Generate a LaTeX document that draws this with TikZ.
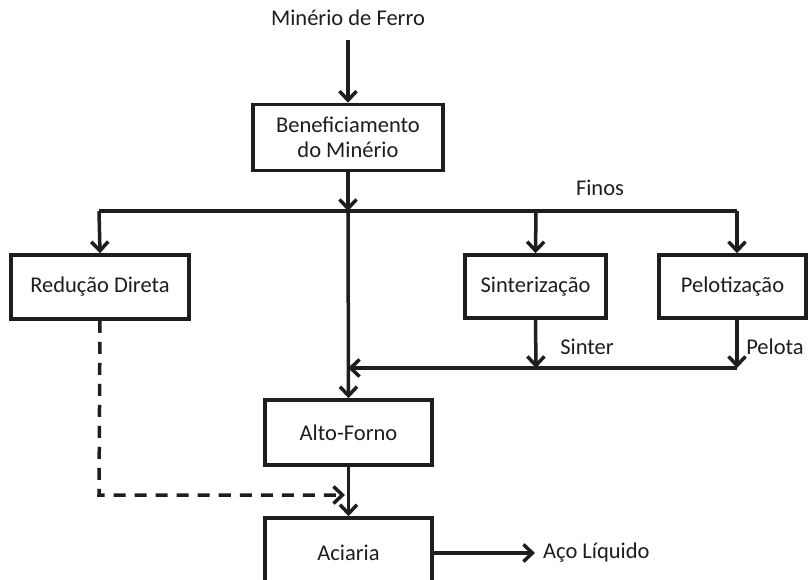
\documentclass[tikz,border=0pt]{standalone}
\usepackage{fontspec}
\setmainfont{Carlito}
\usetikzlibrary{arrows.meta}
\definecolor{ink}{HTML}{1E1E1E}
\begin{document}
\begin{tikzpicture}[x=1pt,y=-1pt,
  every node/.style={font=\fontsize{22.5}{27}\selectfont, text=ink},
  procbox/.style={draw=ink, line width=3.5pt, rectangle, inner sep=0pt, align=center},
  label/.style={inner sep=0pt},
  flow/.style={draw=ink, line width=3.5pt, -{Straight Barb[length=9pt,width=17pt]}},
  plainline/.style={draw=ink, line width=3.5pt},
  dashflow/.style={flow, dash pattern=on 12pt off 9pt}]
\clip (0,0) rectangle (811,579);
\fill[white] (0,0) rectangle (811,579);

\node[label] (minerio) at (348,18) {Minério de Ferro};
\node[procbox, minimum width=190pt, minimum height=66pt] (benef) at (348,137.5) {Beneficiamento\\[-2pt]do Minério};
\node[procbox, minimum width=178pt, minimum height=64pt] (reducao) at (100,287) {Redução Direta};
\node[procbox, minimum width=141pt, minimum height=63pt] (sinter) at (535.5,286.5) {Sinterização};
\node[procbox, minimum width=147pt, minimum height=63pt] (pelot) at (732.5,286.5) {Pelotização};
\node[procbox, minimum width=167pt, minimum height=65pt] (alto) at (348.5,432.5) {Alto-Forno};
\node[procbox, minimum width=167pt, minimum height=70pt] (aciaria) at (348.5,553) {Aciaria};

\node[label] (finos) at (600,188) {Finos};
\node[label] (sinterlbl) at (587,347) {Sinter};
\node[label] (pelotalbl) at (775,347) {Pelota};
\node[label, anchor=west] (aco) at (543,553) {Aço Líquido};

\coordinate (Mtop) at (348,40);
\coordinate (J) at (348,211);
\coordinate (Lleft) at (99,211);
\coordinate (Lright) at (737,211);
\coordinate (Ls) at (536,211);
\coordinate (Sbot) at (536,368);
\coordinate (Ptop) at (737,318);
\coordinate (Pbot) at (737,368);
\coordinate (Mid) at (348,368);
\coordinate (Dturn) at (99,495);
\coordinate (Dend) at (345,495);
\coordinate (Aend) at (535,553);

\draw[flow] (Mtop) -- (benef.north);
\draw[flow] (benef.south) -- (J);
\draw[plainline] (Lleft) -- (Lright);
\draw[flow] (Lleft) -- (reducao.north);
\draw[flow] (Ls) -- (sinter.north);
\draw[flow] (Lright) -- (Lright |- pelot.north);
\draw[flow] (J) -- (alto.north);
\draw[flow] (sinter.south) -- (Sbot);
\draw[flow] (Ptop) -- (Pbot);
\draw[flow] (Pbot) -- (Mid);
\draw[flow] (alto.south) -- (aciaria.north);
\draw[dashflow] (reducao.south) -- (Dturn) -- (Dend);
\draw[flow] (aciaria.east) -- (Aend);
\end{tikzpicture}
\end{document}
